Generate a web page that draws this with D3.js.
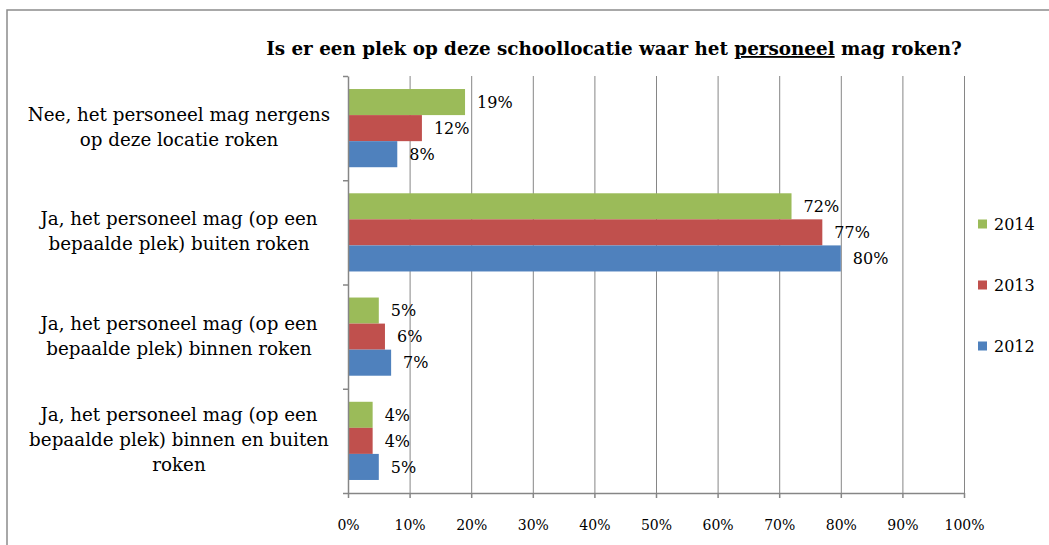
<!DOCTYPE html>
<html>
<head>
<meta charset="utf-8">
<script src="https://cdn.jsdelivr.net/npm/d3@7"></script>
<style>
  body { margin: 0; background: #fff; }
  svg { display: block; font-family: "DejaVu Serif", "Liberation Serif", serif; }
  .grid line { stroke: #868686; stroke-width: 1; }
  .grid path { display: none; }
  .axis path, .axis line { stroke: #868686; stroke-width: 1.5; }
  .axis text { font-size: 14px; fill: #000; font-family: "DejaVu Serif", serif; }
</style>
</head>
<body>
<div id="chart"></div>
<script>
const categories = [
    ["Nee, het personeel mag nergens", "op deze locatie roken"],
    ["Ja, het personeel mag (op een", "bepaalde plek) buiten roken"],
    ["Ja, het personeel mag (op een", "bepaalde plek) binnen roken"],
    ["Ja, het personeel mag (op een", "bepaalde plek) binnen en buiten", "roken"]
];
// top to bottom within each group
const seriesNames = ["2014", "2013", "2012"];
const seriesColors = ["#9BBB59", "#C0504D", "#4F81BD"];
const values2014 = [19, 72, 5, 4];
const values2013 = [12, 77, 6, 4];
const values2012 = [8, 80, 7, 5];
const xTicks = [0, 10, 20, 30, 40, 50, 60, 70, 80, 90, 100];

const WIDTH = 1049;
const HEIGHT = 545;
const PLOT_LEFT = 348;
const PLOT_RIGHT = 964;
const PLOT_TOP = 76;
const PLOT_BOTTOM = 493;

const seriesValues = [values2014, values2013, values2012];

// shrink or grow a text element's font so it spans the given width
function fitWidth(sel, target) {
    const size = parseFloat(sel.attr("font-size"));
    const len = sel.node().getComputedTextLength();
    sel.attr("font-size", (size * target / len).toFixed(2));
}

const svg = d3.select("#chart")
    .append("svg")
    .attr("width", WIDTH)
    .attr("height", HEIGHT);

// outer chart border (only top and left visible)
svg.append("path")
    .attr("d", `M7,${HEIGHT} L7,10 L${WIDTH},10`)
    .attr("fill", "none")
    .attr("stroke", "#8c8c8c")
    .attr("stroke-width", 1.5);

// title with underlined word
const title = svg.append("text")
    .attr("x", 614)
    .attr("y", 55)
    .attr("text-anchor", "middle")
    .attr("font-weight", "bold")
    .attr("font-size", 18);
title.append("tspan").text("Is er een plek op deze schoollocatie waar het ");
title.append("tspan").text("personeel").attr("text-decoration", "underline");
title.append("tspan").text(" mag roken?");
fitWidth(title, 696);

// scales
const xScale = d3.scaleLinear()
    .domain([0, 100])
    .range([PLOT_LEFT, PLOT_RIGHT]);

const yScale = d3.scaleBand()
    .domain(d3.range(categories.length))
    .range([PLOT_TOP, PLOT_BOTTOM])
    .paddingInner(0.25)
    .paddingOuter(0.125);

const ySub = d3.scaleBand()
    .domain(seriesNames)
    .range([0, yScale.bandwidth()]);

const yEdges = d3.scaleLinear()
    .domain([0, categories.length])
    .range([PLOT_TOP, PLOT_BOTTOM]);

// vertical gridlines
svg.append("g")
    .attr("class", "grid")
    .attr("transform", `translate(0,${PLOT_BOTTOM})`)
    .call(d3.axisBottom(xScale)
        .tickValues(xTicks.slice(1))
        .tickSize(-(PLOT_BOTTOM - PLOT_TOP))
        .tickFormat(""));

// bars
const groups = svg.selectAll("g.group")
    .data(categories)
    .join("g")
    .attr("class", "group")
    .attr("transform", (d, i) => `translate(0,${yScale(i)})`);

groups.each(function (d, i) {
    const g = d3.select(this);
    seriesNames.forEach((name, s) => {
        const v = seriesValues[s][i];
        g.append("rect")
            .attr("x", xScale(0))
            .attr("y", ySub(name))
            .attr("width", xScale(v) - xScale(0))
            .attr("height", ySub.bandwidth())
            .attr("fill", seriesColors[s]);
        g.append("text")
            .attr("x", xScale(v) + 12)
            .attr("y", ySub(name) + ySub.bandwidth() / 2)
            .attr("dy", "0.36em")
            .attr("font-size", 16)
            .text(v + "%");
    });
});

// bottom axis
svg.append("g")
    .attr("class", "axis")
    .attr("transform", `translate(0,${PLOT_BOTTOM})`)
    .call(d3.axisBottom(xScale)
        .tickValues(xTicks)
        .tickSizeInner(5)
        .tickSizeOuter(0)
        .tickPadding(22)
        .tickFormat(d => d + "%"));

// left axis with ticks at category boundaries
svg.append("g")
    .attr("class", "axis")
    .attr("transform", `translate(${PLOT_LEFT},0)`)
    .call(d3.axisLeft(yEdges)
        .tickValues(d3.range(categories.length + 1))
        .tickSizeInner(5)
        .tickSizeOuter(0)
        .tickFormat(""));

// category labels
const LINE_HEIGHT = 25;
svg.selectAll("text.cat")
    .data(categories)
    .join("text")
    .attr("class", "cat")
    .attr("text-anchor", "middle")
    .attr("font-size", 18.3)
    .each(function (lines, i) {
        const cy = yScale(i) + yScale.bandwidth() / 2;
        d3.select(this).selectAll("tspan")
            .data(lines)
            .join("tspan")
            .attr("x", 179)
            .attr("y", (l, j) => cy + (j - (lines.length - 1) / 2) * LINE_HEIGHT + 5.5)
            .text(l => l);
    });

// legend
const legend = svg.append("g")
    .selectAll("g")
    .data(seriesNames)
    .join("g")
    .attr("transform", (d, i) => `translate(978,${224 + i * 61})`);
legend.append("rect")
    .attr("x", 0)
    .attr("y", -4.5)
    .attr("width", 9)
    .attr("height", 9)
    .attr("fill", (d, i) => seriesColors[i]);
legend.append("text")
    .attr("x", 16)
    .attr("dy", "0.36em")
    .attr("font-size", 16)
    .text(d => d);
</script>
</body>
</html>
